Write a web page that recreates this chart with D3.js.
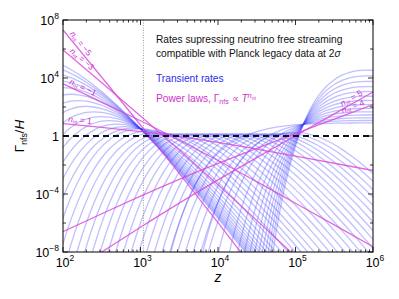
<!DOCTYPE html>
<html lang="en">
<head>
<meta charset="UTF-8">
<title>Neutrino free-streaming rates</title>
<script src="https://cdn.jsdelivr.net/npm/d3@7"></script>
<style>
  body { margin: 0; background: #fff; }
  svg { display: block; font-family: "Liberation Sans", Arial, sans-serif; }
</style>
</head>
<body>
<script>
const width = 399, height = 299;
const marginTop = 20, marginRight = 26, marginBottom = 47, marginLeft = 63;

// power laws Gamma ~ T^n, log10(Gamma/H) read at these log10(z)
const powerLogZ = [2, 2.5, 3, 3.5, 4, 4.5, 5, 5.5, 6];
const powerIndex = [-5, -3, -1, 1, 4, 5];
const powerLogRate = [
  [7.31, 4.05, 0.76, -2.58, -5.98, -9.44, -12.93, -16.42, -19.92],
  [5.93, 3.67, 1.38, -0.96, -3.36, -5.82, -8.31, -10.80, -13.30],
  [3.60, 2.34, 1.05, -0.29, -1.69, -3.15, -4.64, -6.13, -7.63],
  [0.85, 0.59, 0.30, -0.04, -0.44, -0.90, -1.39, -1.88, -2.38],
  [-6.60, -5.36, -4.15, -2.99, -1.89, -0.85, 0.17, 1.17, 2.17],
  [-9.74, -8.00, -6.29, -4.63, -3.03, -1.49, 0.02, 1.53, 3.03]
];

// shape of a transient rate around its peak (log10 z offset, log10 rate offset)
const profileDLogZ = [-1.5, -1.4, -1.3, -1.2, -1.1, -1.0, -0.9, -0.8, -0.7, -0.6, -0.5, -0.4, -0.3, -0.2, -0.1,
  0, 0.1, 0.2, 0.3, 0.4, 0.5, 0.6, 0.7, 0.8, 0.9, 1.0, 1.1, 1.2, 1.3, 1.4, 1.5, 1.6, 1.7, 1.8, 1.9,
  2.0, 2.1, 2.2, 2.3, 2.4, 2.5, 2.6, 2.7, 2.8, 2.9, 3.0, 3.2, 3.5, 4.0];
const profileDLogRate = [-17.61, -14.59, -11.98, -9.73, -7.79, -6.15, -4.76, -3.59, -2.63, -1.85, -1.23, -0.76, -0.41, -0.18, -0.04,
  0, -0.04, -0.15, -0.32, -0.56, -0.84, -1.17, -1.54, -1.94, -2.38, -2.84, -3.33, -3.85, -4.38, -4.93, -5.50, -6.08, -6.68, -7.28, -7.90,
  -8.53, -9.16, -9.80, -10.45, -11.10, -11.76, -12.43, -13.09, -13.76, -14.44, -15.11, -16.47, -18.53, -21.98];

// early and intermediate transient rates: peak positions
const transientPeakLogZ = [1.6, 1.7, 1.8, 1.9, 2.0, 2.1, 2.2, 2.3, 2.4, 2.5, 2.6, 2.7, 2.8, 2.9, 3.0,
  3.1, 3.2, 3.3, 3.4, 3.5, 3.6, 3.7, 3.8, 3.9, 4.0, 4.1, 4.2, 4.3, 4.4, 4.5, 4.6, 4.7, 4.8, 4.9, 5.0];
const transientPeakLogRate = [5.43, 4.88, 4.35, 3.83, 3.34, 2.88, 2.44, 2.04, 1.67, 1.34, 1.06, 0.82, 0.65, 0.54, 0.50,
  0.35, 0.25, 0.15, 0.15, 0.15, 0.15, 0.15, 0.15, 0.15, 0.15, 0.15, 0.15, 0.15, 0.15, 0.15, 0.15, 0.15, 0.15, 0.2, 0.25];

// late transient rates: all cross near z = 1.26e5, shape relative to that point
const lateCrossLogZ = 5.1, lateCrossLogRate = 0.8;
const lateDLogZ = [-2.0, -1.9, -1.8, -1.7, -1.6, -1.5, -1.4, -1.3, -1.2, -1.1, -1.0, -0.9, -0.8, -0.7, -0.6, -0.5, -0.4, -0.3, -0.2, -0.1,
  0, 0.1, 0.2, 0.3, 0.4, 0.5, 0.6, 0.7, 0.8, 0.9];
const lateShape = [-174.7, -138.2, -109.3, -86.26, -67.99, -53.50, -42.00, -32.88, -25.65, -19.92, -15.38, -11.78, -8.94, -6.70, -4.93, -3.53, -2.44, -1.58, -0.916, -0.398,
  0, 0.304, 0.532, 0.701, 0.822, 0.905, 0.959, 0.989, 1.0, 0.996];
const lateHeight = [3.75, 3.35, 2.97, 2.61, 2.27, 1.95, 1.65, 1.37, 1.11, 0.87, 0.65, 0.45, 0.27, 0.1];

const recombinationZ = 1090;
const xTickExp = [2, 3, 4, 5, 6];
const yTickExp = [-8, -4, 0, 4, 8];
const yMinorExp = [-6, -2, 2, 6];

const x = d3.scaleLog().domain([1e2, 1e6]).range([marginLeft, width - marginRight]);
const y = d3.scaleLog().domain([1e-8, 1e8]).range([height - marginBottom, marginTop]);

const svg = d3.select("body").append("svg")
  .attr("width", width).attr("height", height)
  .attr("viewBox", [0, 0, width, height]);

svg.append("defs").append("clipPath").attr("id", "plot")
  .append("rect")
  .attr("x", marginLeft).attr("y", marginTop)
  .attr("width", width - marginLeft - marginRight)
  .attr("height", height - marginTop - marginBottom);

const line = d3.line()
  .x(d => x(d[0]))
  .y(d => y(d[1]))
  .curve(d3.curveMonotoneX);

const plot = svg.append("g").attr("clip-path", "url(#plot)");

function transient(pts) {
  plot.append("path")
    .attr("d", line(pts))
    .attr("fill", "none")
    .attr("stroke", "#3a3aff")
    .attr("stroke-opacity", 0.32)
    .attr("stroke-width", 1.3);
}

transientPeakLogZ.forEach((lz, i) => {
  const lr = transientPeakLogRate[i];
  transient(profileDLogZ.map((dz, j) => [Math.pow(10, lz + dz), Math.pow(10, lr + profileDLogRate[j])]));
});
lateHeight.forEach(h => {
  transient(lateDLogZ.map((dz, j) => [
    Math.pow(10, lateCrossLogZ + dz),
    Math.pow(10, Math.max(-30, lateCrossLogRate + h * lateShape[j]))
  ]));
});

// recombination
plot.append("line")
  .attr("x1", x(recombinationZ)).attr("x2", x(recombinationZ))
  .attr("y1", marginTop).attr("y2", height - marginBottom)
  .attr("stroke", "#999").attr("stroke-width", 1)
  .attr("stroke-dasharray", "1,1.5");

// power laws
powerLogRate.forEach(row => {
  const pts = row.map((lr, j) => [Math.pow(10, powerLogZ[j]), Math.pow(10, lr)]);
  plot.append("path")
    .attr("d", line(pts))
    .attr("fill", "none")
    .attr("stroke", "#d845d8")
    .attr("stroke-opacity", 0.8)
    .attr("stroke-width", 1.3);
});

// Gamma/H = 1
plot.append("line")
  .attr("x1", marginLeft).attr("x2", width - marginRight)
  .attr("y1", y(1)).attr("y2", y(1))
  .attr("stroke", "#111").attr("stroke-width", 2)
  .attr("stroke-dasharray", "6,4");

// line labels
const labelSpots = [
  { i: 0, lz: 2.06 }, { i: 1, lz: 2.06 }, { i: 2, lz: 2.06 }, { i: 3, lz: 2.06 },
  { i: 4, lz: 5.62 }, { i: 5, lz: 5.62 }
];
function rateAt(row, lz) {
  const k = Math.min(powerLogZ.length - 2, Math.floor((lz - powerLogZ[0]) / 0.5));
  const t = (lz - powerLogZ[k]) / 0.5;
  return row[k] + t * (row[k + 1] - row[k]);
}
labelSpots.forEach(s => {
  const row = powerLogRate[s.i];
  const px0 = x(Math.pow(10, s.lz)), py0 = y(Math.pow(10, rateAt(row, s.lz)));
  const px1 = x(Math.pow(10, s.lz + 0.2)), py1 = y(Math.pow(10, rateAt(row, s.lz + 0.2)));
  const ang = Math.atan2(py1 - py0, px1 - px0) * 180 / Math.PI;
  const n = powerIndex[s.i];
  const t = svg.append("text")
    .attr("transform", `translate(${px0},${py0}) rotate(${ang}) translate(0,-2.5)`)
    .attr("fill", "#cc33cc")
    .attr("font-size", 8.5);
  t.append("tspan").attr("font-style", "italic").text("n");
  t.append("tspan").attr("font-size", 5.5).attr("dy", 1.5).text("nt");
  t.append("tspan").attr("dy", -1.5).text(" = " + (n < 0 ? "\u2212" + (-n) : n));
});

// frame and ticks
const frame = svg.append("g");
const minorX = [];
for (let e = 2; e < 6; e++) for (let m = 2; m <= 9; m++) minorX.push(m * Math.pow(10, e));
const fx0 = marginLeft, fx1 = width - marginRight, yb = height - marginBottom, yt = marginTop;

function vTick(xx, len) {
  frame.append("line").attr("x1", xx).attr("x2", xx).attr("y1", yb).attr("y2", yb - len);
  frame.append("line").attr("x1", xx).attr("x2", xx).attr("y1", yt).attr("y2", yt + len);
}
function hTick(yy, len) {
  frame.append("line").attr("x1", fx0).attr("x2", fx0 + len).attr("y1", yy).attr("y2", yy);
  frame.append("line").attr("x1", fx1).attr("x2", fx1 - len).attr("y1", yy).attr("y2", yy);
}
xTickExp.forEach(e => vTick(x(Math.pow(10, e)), 5));
minorX.forEach(v => vTick(x(v), 2.5));
yTickExp.forEach(e => hTick(y(Math.pow(10, e)), 5));
yMinorExp.forEach(e => hTick(y(Math.pow(10, e)), 3));
frame.selectAll("line").attr("stroke", "#000").attr("stroke-width", 0.8);
frame.append("rect")
  .attr("x", fx0).attr("y", yt).attr("width", fx1 - fx0).attr("height", yb - yt)
  .attr("fill", "none").attr("stroke", "#000").attr("stroke-width", 1);

function powLabel(t, e) {
  if (e === 0) { t.text("1"); return; }
  t.text("10");
  t.append("tspan").attr("dy", -6).attr("font-size", 8.5).text(e < 0 ? "\u2212" + (-e) : e);
}
xTickExp.forEach(e => {
  const t = svg.append("text")
    .attr("x", x(Math.pow(10, e)) + 2).attr("y", 267)
    .attr("text-anchor", "middle").attr("font-size", 12.5);
  powLabel(t, e);
});
yTickExp.forEach(e => {
  const t = svg.append("text")
    .attr("x", 59).attr("y", y(Math.pow(10, e)) + 4.5)
    .attr("text-anchor", "end").attr("font-size", 12.5);
  powLabel(t, e);
});

// axis titles
svg.append("text")
  .attr("x", x(1e4)).attr("y", 282)
  .attr("text-anchor", "middle").attr("font-size", 14).attr("font-style", "italic")
  .text("z");
const yl = svg.append("text")
  .attr("transform", `translate(24,${y(1)}) rotate(-90)`)
  .attr("text-anchor", "middle").attr("font-size", 13.5);
yl.append("tspan").text("\u0393");
yl.append("tspan").attr("font-size", 8.5).attr("dy", 3).text("nfs");
yl.append("tspan").attr("dy", -3).text("/");
yl.append("tspan").attr("font-style", "italic").text("H");

// annotations
const note = svg.append("g").attr("font-size", 10.2);
note.append("text").attr("x", 156).attr("y", 43).attr("fill", "#111")
  .text("Rates supressing neutrino free streaming");
const l2 = note.append("text").attr("x", 156).attr("y", 57).attr("fill", "#111")
  .text("compatible with Planck legacy data at 2");
l2.append("tspan").attr("font-style", "italic").text("\u03c3");
note.append("text").attr("x", 156).attr("y", 82).attr("fill", "#2b2bf0")
  .text("Transient rates");
const l4 = note.append("text").attr("x", 156).attr("y", 102).attr("fill", "#cc33cc")
  .text("Power laws, \u0393");
l4.append("tspan").attr("font-size", 7).attr("dy", 2).text("nfs");
l4.append("tspan").attr("dy", -2).text(" \u221d ");
l4.append("tspan").attr("font-style", "italic").text("T");
l4.append("tspan").attr("font-style", "italic").attr("font-size", 7.5).attr("dy", -4).text("n");
l4.append("tspan").attr("font-size", 5).attr("dy", 1.5).text("nt");
</script>
</body>
</html>
